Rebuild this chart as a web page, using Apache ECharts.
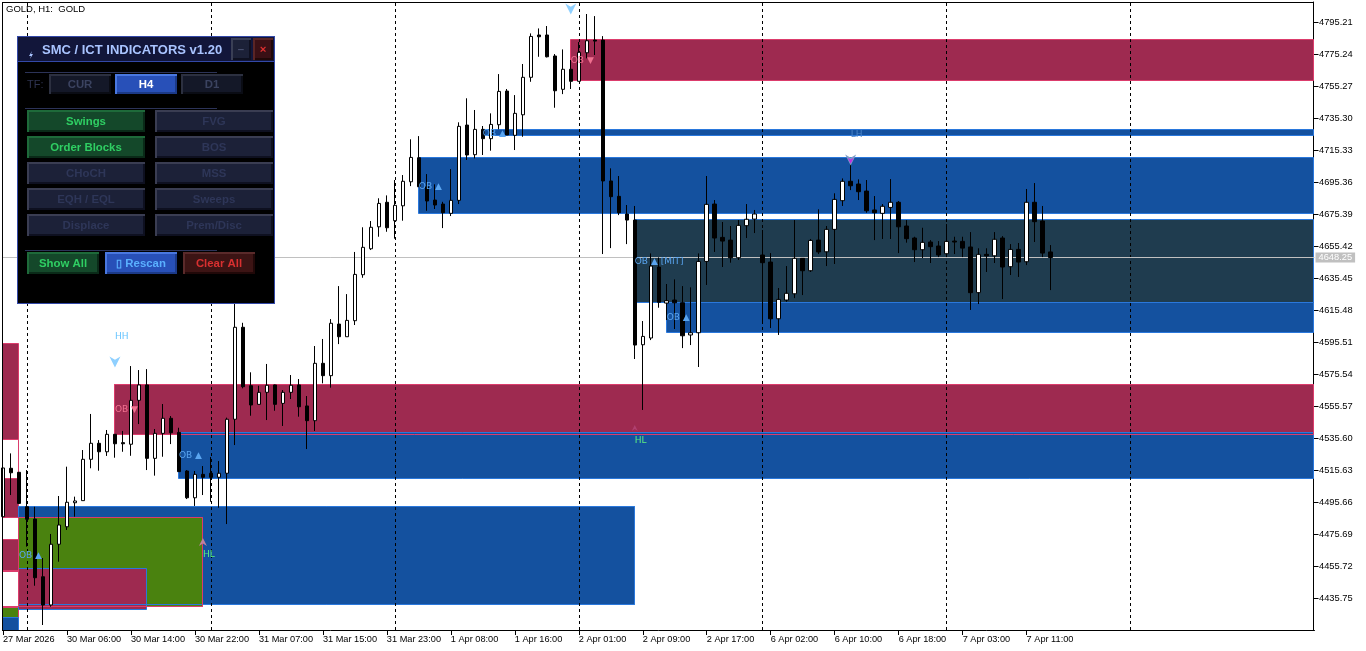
<!DOCTYPE html>
<html>
<head>
<meta charset="utf-8">
<title>GOLD H1</title>
<style>
html, body { margin: 0; padding: 0; background: #fff; }
#main { width: 1366px; height: 651px; }
</style>
<script src="https://cdn.jsdelivr.net/npm/echarts@6/dist/echarts.min.js"></script>
</head>
<body>
<div id="main"></div>
<script>
var opens = [
  4486.5,4516.7,4514.2,4492.7,4485.0,4449.0,4431.4,4469.3,4480.2,4495.2,
  4496.5,4522.3,4532.3,4527.0,4537.9,4532.7,4531.7,4559.1,4568.7,4522.9,
  4538.5,4547.9,4539.1,4515.0,4498.3,4512.9,4513.6,4511.1,4513.6,4547.3,
  4604.7,4568.2,4556.6,4564.1,4568.7,4557.2,4564.1,4568.7,4555.6,4546.4,
  4582.2,4574.5,4606.7,4598.8,4608.8,4637.5,4653.7,4667.4,4682.7,4671.2,
  4680.5,4695.5,4710.5,4692.4,4684.1,4681.6,4675.8,4683.9,4730.9,4712.4,
  4728.2,4722.4,4731.1,4752.1,4724.5,4737.3,4760.7,4787.1,4787.1,4774.0,
  4753.2,4765.7,4758.2,4776.0,4783.9,4783.9,4696.0,4686.4,4675.4,4671.6,
  4593.8,4598.0,4642.3,4619.8,4621.7,4620.0,4599.9,4601.3,4645.8,4681.6,
  4660.8,4659.1,4648.1,4668.1,4672.2,4649.8,4645.4,4610.0,4621.7,4625.6,
  4647.7,4640.0,4659.1,4651.8,4665.8,4683.7,4695.8,4694.1,4689.7,4677.9,
  4675.8,4679.5,4682.7,4667.9,4660.4,4653.1,4657.9,4655.4,4650.6,4658.5,
  4658.3,4654.8,4626.3,4650.2,4649.3,4660.4,4642.5,4653.3,4645.6,4682.7,
  4671.0,4651.7
]
var closes = [
  4516.9,4513.9,4494.8,4484.9,4448.4,4431.4,4469.3,4481.3,4495.5,4496.3,
  4522.3,4532.3,4527.0,4537.9,4532.0,4532.0,4559.1,4568.7,4522.9,4538.5,
  4547.9,4538.9,4514.6,4498.3,4512.9,4511.1,4511.1,4513.6,4547.3,4604.7,
  4567.6,4556.2,4564.1,4568.5,4556.6,4564.1,4568.5,4555.1,4546.4,4582.2,
  4574.5,4607.2,4598.8,4609.0,4637.7,4654.6,4667.1,4682.0,4666.8,4680.8,
  4695.8,4710.7,4692.4,4683.5,4681.0,4676.2,4683.9,4730.1,4712.2,4728.2,
  4722.4,4731.3,4751.9,4724.7,4738.2,4760.7,4786.2,4786.0,4773.5,4752.3,
  4765.7,4758.2,4776.3,4783.5,4783.3,4696.0,4686.2,4676.2,4671.6,4593.6,
  4599.0,4642.9,4620.3,4621.3,4620.0,4599.4,4601.3,4645.8,4681.4,4660.4,
  4658.5,4648.1,4668.3,4672.1,4675.4,4645.0,4610.0,4622.1,4625.9,4647.7,
  4640.0,4658.9,4651.7,4665.8,4684.5,4695.8,4693.0,4689.3,4677.4,4676.2,
  4680.2,4682.7,4667.4,4660.0,4653.1,4657.7,4655.0,4649.8,4658.3,4657.9,
  4654.1,4626.3,4650.2,4649.3,4659.6,4642.3,4653.3,4645.4,4682.7,4670.6,
  4651.0,4648.25
]
var highs = [
  4518.7,4526.0,4514.4,4515.6,4492.7,4460.7,4475.7,4499.4,4517.7,4499.0,
  4528.1,4550.6,4534.3,4540.6,4538.1,4540.0,4580.5,4578.0,4578.6,4541.2,
  4556.8,4549.3,4542.0,4515.6,4515.0,4518.1,4523.7,4521.2,4548.3,4627.9,
  4607.5,4576.6,4568.2,4581.8,4568.9,4565.5,4574.9,4572.4,4561.8,4593.0,
  4597.4,4609.8,4630.4,4625.4,4651.7,4667.1,4671.0,4685.2,4687.0,4696.6,
  4699.7,4722.0,4724.0,4700.3,4693.9,4683.0,4703.4,4732.6,4747.6,4740.3,
  4730.3,4738.2,4762.7,4753.4,4749.6,4769.0,4788.1,4791.2,4792.7,4775.2,
  4778.1,4771.5,4782.7,4800.2,4798.9,4786.4,4703.9,4699.1,4681.0,4680.4,
  4608.6,4650.8,4648.3,4631.7,4634.6,4630.4,4629.6,4650.8,4699.1,4684.1,
  4670.4,4667.9,4671.6,4681.6,4677.9,4665.4,4651.0,4629.2,4642.9,4671.6,
  4647.9,4659.8,4678.3,4667.9,4688.3,4697.6,4709.1,4697.0,4696.6,4686.6,
  4681.6,4697.2,4683.5,4671.6,4661.2,4666.8,4659.1,4658.5,4669.1,4661.2,
  4661.2,4664.1,4654.0,4654.0,4664.1,4661.6,4656.6,4657.3,4691.0,4694.7,
  4680.4,4656.0
]
var lows = [
  4485.7,4500.0,4494.4,4467.8,4443.4,4418.9,4430.3,4458.4,4478.2,4486.5,
  4496.5,4516.7,4515.2,4524.4,4523.3,4527.0,4524.5,4544.3,4515.6,4512.1,
  4523.9,4531.8,4514.6,4497.5,4493.2,4500.0,4495.8,4492.1,4481.9,4531.2,
  4566.6,4549.5,4556.6,4546.8,4552.6,4543.1,4559.9,4548.9,4528.7,4540.0,
  4569.7,4567.0,4594.2,4598.8,4606.1,4635.6,4652.9,4661.2,4664.3,4660.0,
  4671.2,4692.8,4692.4,4677.4,4678.5,4666.6,4674.1,4681.6,4709.1,4710.1,
  4712.2,4714.9,4728.2,4724.7,4715.3,4723.6,4757.9,4773.5,4773.1,4741.7,
  4750.2,4753.4,4758.2,4772.5,4774.6,4650.4,4654.1,4674.7,4656.6,4584.9,
  4553.1,4596.7,4616.9,4609.2,4603.6,4591.7,4593.6,4579.9,4631.1,4651.7,
  4642.3,4645.0,4646.7,4660.4,4663.5,4607.5,4604.2,4599.9,4620.6,4622.9,
  4624.8,4639.2,4650.4,4642.9,4644.2,4680.4,4690.3,4684.1,4676.2,4659.1,
  4659.8,4659.8,4651.0,4657.5,4645.4,4647.9,4644.8,4648.5,4648.5,4650.4,
  4648.5,4615.5,4619.2,4639.2,4644.8,4622.3,4637.3,4636.1,4643.5,4657.9,
  4648.5,4627.9
]

var timeLabels = ['27 Mar 2026','30 Mar 06:00','30 Mar 14:00','30 Mar 22:00','31 Mar 07:00','31 Mar 15:00','31 Mar 23:00',
  '1 Apr 08:00','1 Apr 16:00','2 Apr 01:00','2 Apr 09:00','2 Apr 17:00','6 Apr 02:00','6 Apr 10:00','6 Apr 18:00','7 Apr 03:00','7 Apr 11:00']
var priceTicks = [4795.21,4775.24,4755.27,4735.30,4715.33,4695.36,4675.39,4655.42,4635.45,4615.48,4595.51,4575.54,4555.57,4535.60,4515.63,4495.66,4475.69,4455.72,4435.75]
var daySeparators = [3,26,49,72,95,118,141]
var lastPrice = 4648.25

// order blocks, drawn in this order
var zoneStart  = [-1,-1,-1,-1,-1,-1,-1,-1, 2, 2, 2, 2, 2, 14, 22, 14, 52, 60, 71, 83, 79]
var zoneEnd    = [2,2,2,2,2,2,2,2, 79, 25, 18, 79, 25, 164, 164, 164, 164, 164, 164, 164, 164]
var zoneTop    = [4594.7,4534.8,4510.6,4486.0,4472.0,4452.5,4429.9,4423.3, 4492.8,4486.0,4454.3,4492.8,4486.0, 4569.1,4538.9,4569.1, 4710.9,4728.4,4784.3,4620.3,4672.2]
var zoneBottom = [4534.8,4510.6,4486.0,4472.0,4452.9,4430.4,4423.3,4410.0, 4431.8,4430.6,4428.5,4431.8,4430.6, 4537.9,4510.4,4537.9, 4675.7,4724.3,4758.4,4601.3,4620.3]
var zoneKind   = ['bear','void','bear','void','bear','void','green','bull', 'bull','green','bearBlue','bullLine','bearLine', 'bear','bull','bearLine', 'bull','bull','bear','bull','mit']

var labelBar   = [2,14,22,52,60,71,79,83,14,25,79,106]
var labelPrice = [4462.6,4553.7,4525.0,4693.0,4726.2,4771.5,4646.2,4611.1,4599.2,4463.4,4534.3,4725.3]
var labelText  = ['OB ▲','OB ▼','OB ▲','OB ▲','OB ▲','OB ▼','OB ▲ [MIT]','OB ▲','HH','HL','HL','LH']
var labelKind  = ['ob','obDown','ob','ob','ob','obDown','ob','ob','hh','hl','hl','lh']

var arrowBar   = [14,71,106,106,79,25]
var arrowPrice = [4583.0,4803.3,4709.1,4708.6,4541.9,4470.7]
var arrowKind  = ['down','down','lh','lhCore','hl','hl2']

var zoneStyles = {
  bear:     { fill: '#9e2a50', line: '#dc3c6c' },
  void:     { fill: '#ffffff', line: '#dc3c6c' },
  green:    { fill: '#4a820f', line: '#dc3c6c' },
  bull:     { fill: '#14519f', line: '#2a78dc' },
  bearBlue: { fill: '#9e2a50', line: '#2a78dc' },
  mit:      { fill: '#1f3c4f', line: '#2a78dc' },
  bullLine: { fill: 'none',    line: '#2a78dc' },
  bearLine: { fill: 'none',    line: '#dc3c6c' }
}
var labelColors = { ob: '#5aa5f0', obDown: '#f0708f', hh: '#66c4ff', hl: '#5cf080', lh: '#4a85c8' }
var arrowStyles = {
  down:   { color: '#8fd0ff', size: 11, rotate: 0 },
  lh:     { color: '#7f9cc8', size: 11, rotate: 0 },
  lhCore: { color: '#c030e0', size: 6, rotate: 0 },
  hl:     { color: '#b04070', size: 6, rotate: 180 },
  hl2:    { color: '#c080a0', size: 8, rotate: 180 }
}

var uiFont = '"Liberation Sans", Arial, sans-serif'
var plotRight = 1313.5
var categories = []
for (var i = 0; i < 165; i++) {
  categories.push(i % 8 == 0 && timeLabels[i / 8] ? timeLabels[i / 8] : '')
}

var candleData = []
for (var i = 0; i < opens.length; i++) {
  candleData.push([opens[i], closes[i], lows[i], highs[i]])
}
var zoneData = []
for (var i = 0; i < zoneStart.length; i++) {
  zoneData.push([zoneStart[i], zoneEnd[i], zoneTop[i], zoneBottom[i], i])
}
var labelData = []
for (var i = 0; i < labelBar.length; i++) {
  labelData.push({
    value: [labelBar[i], labelPrice[i]],
    label: { formatter: labelText[i], color: labelColors[labelKind[i]] }
  })
}
var arrowData = []
for (var i = 0; i < arrowBar.length; i++) {
  var st = arrowStyles[arrowKind[i]]
  arrowData.push({
    value: [arrowBar[i], arrowPrice[i]],
    symbolSize: st.size,
    symbolRotate: st.rotate,
    itemStyle: { color: st.color, opacity: 1 }
  })
}

// the SMC panel
var panel = []
function box(x0, y0, x1, y1, color) {
  panel.push({ type: 'rect', z: 100, silent: true, shape: { x: x0, y: y0, width: x1 - x0, height: y1 - y0 }, style: { fill: color } })
}
function txt(x, y, s, color, size, bold, align) {
  panel.push({ type: 'text', z: 101, silent: true, x: x, y: y, style: {
    text: s, fill: color, font: (bold ? 'bold ' : '') + size + 'px ' + uiFont,
    align: align || 'center', verticalAlign: 'middle'
  } })
}
function button(x0, y0, x1, y1, bg, light, dark, s, color) {
  box(x0, y0, x1, y1, dark)
  box(x0, y0, x1, y0 + 2, light)
  box(x0, y0, x0 + 2, y1, light)
  box(x0 + 2, y0 + 2, x1 - 2, y1 - 2, bg)
  txt((x0 + x1) / 2, (y0 + y1) / 2 + 0.5, s, color, 11.4, true)
}
function onBtn(x0, y0, x1, y1, s) { button(x0, y0, x1, y1, '#14482a', '#1e6a3a', '#0a2a18', s, '#2fce63') }
function offBtn(x0, y0, x1, y1, s) { button(x0, y0, x1, y1, '#1c2138', '#3a3d52', '#0e1020', s, '#2e3658') }

box(17, 36, 275, 304, '#3348a8')
box(18, 37, 274, 303, '#000000')
box(18, 37, 274, 61, '#12163a')
box(18, 61, 274, 62, '#3348a8')
txt(42, 50.5, 'SMC / ICT INDICATORS v1.20', '#a9c4ff', 13, true, 'left')
panel.push({ type: 'polygon', z: 101, silent: true, shape: { points: [[32, 51], [29, 56], [31, 56], [30, 59], [33, 54], [31, 54]] }, style: { fill: '#a9c4ff' } })
button(231, 38, 251, 60, '#1c2138', '#3a3f55', '#0e1020', '–', '#4a5070')
button(253, 38, 273, 60, '#3a1015', '#5a2525', '#200808', '×', '#e03030')
box(25, 72, 217, 73, '#2c3358')
box(25, 108, 217, 109, '#2c3358')
box(25, 250, 217, 251, '#2c3358')
txt(27, 85, 'TF:', '#2e3350', 11, false, 'left')
button(49, 74, 111, 94, '#141828', '#2c3040', '#0a0c14', 'CUR', '#3b4360')
button(115, 74, 177, 94, '#2850b8', '#4a78e0', '#1c3a88', 'H4', '#ffffff')
button(181, 74, 243, 94, '#141828', '#2c3040', '#0a0c14', 'D1', '#3b4360')
onBtn(27, 110, 145, 132, 'Swings')
offBtn(155, 110, 273, 132, 'FVG')
onBtn(27, 136, 145, 158, 'Order Blocks')
offBtn(155, 136, 273, 158, 'BOS')
offBtn(27, 162, 145, 184, 'CHoCH')
offBtn(155, 162, 273, 184, 'MSS')
offBtn(27, 188, 145, 210, 'EQH / EQL')
offBtn(155, 188, 273, 210, 'Sweeps')
offBtn(27, 214, 145, 236, 'Displace')
offBtn(155, 214, 273, 236, 'Prem/Disc')
button(27, 252, 99, 274, '#14482a', '#1e6a3a', '#0a2a18', 'Show All', '#2fce63')
button(105, 252, 177, 274, '#2850b8', '#4a78e0', '#1c3a88', '▯ Rescan', '#5ab0ff')
button(183, 252, 255, 274, '#3c1414', '#5a2a2a', '#200808', 'Clear All', '#d83030')

// frame sides the axes do not draw
panel.push({ type: 'rect', z: 50, silent: true, shape: { x: 2, y: 2, width: 1312, height: 1 }, style: { fill: '#000' } })
panel.push({ type: 'rect', z: 50, silent: true, shape: { x: 2, y: 2, width: 1, height: 629 }, style: { fill: '#000' } })

var myChart = echarts.init(document.getElementById('main'))

var option = {
  animation: false,
  backgroundColor: '#ffffff',
  title: {
    text: 'GOLD, H1:  GOLD', left: 6, top: 4, padding: 0,
    textStyle: { fontFamily: uiFont, fontSize: 9.5, fontWeight: 'normal', color: '#000000' }
  },
  grid: { left: 2.5, top: 2, width: 1312, height: 628 },
  xAxis: {
    type: 'category',
    data: categories,
    boundaryGap: false,
    axisLine: { lineStyle: { color: '#000', width: 1 } },
    axisTick: {
      length: 5,
      lineStyle: { color: '#000' },
      interval: function(idx) { return idx % 8 == 0 && idx <= 128 }
    },
    axisLabel: {
      interval: function(idx) { return idx % 8 == 0 && idx <= 128 },
      align: 'left',
      margin: 5,
      color: '#000',
      fontFamily: uiFont,
      fontSize: 9.2,
      hideOverlap: false
    },
    splitLine: { show: false }
  },
  yAxis: {
    type: 'value',
    position: 'right',
    offset: -1,
    min: 4415.78,
    max: 4807.69,
    axisLine: { show: true, lineStyle: { color: '#000', width: 1 } },
    axisTick: { show: true, length: 5, lineStyle: { color: '#000' }, customValues: priceTicks },
    axisLabel: {
      customValues: priceTicks,
      margin: 5.5,
      padding: [2, 0, 0, 0],
      color: '#000',
      fontFamily: uiFont,
      fontSize: 9.3,
      formatter: function(v) { return v.toFixed(2) }
    },
    splitLine: { show: false }
  },
  series: [
    {
      type: 'custom',
      z: 1,
      silent: true,
      clip: true,
      encode: { x: [0, 1], y: [2, 3] },
      data: zoneData,
      renderItem: function(params, api) {
        var p0 = api.coord([api.value(0), api.value(2)])
        var p1 = api.coord([api.value(1), api.value(3)])
        var st = zoneStyles[zoneKind[api.value(4)]]
        var x0 = Math.round(p0[0] - 0.5) + 0.5, y0 = Math.round(p0[1] - 0.5) + 0.5
        var x1 = Math.min(Math.round(p1[0] - 0.5) + 0.5, plotRight), y1 = Math.round(p1[1] - 0.5) + 0.5
        return {
          type: 'rect',
          shape: { x: x0, y: y0, width: x1 - x0, height: y1 - y0 },
          style: { fill: st.fill, stroke: st.line, lineWidth: 1 }
        }
      }
    },
    {
      // day separators and the bid line, under the candles
      type: 'line',
      z: 2,
      silent: true,
      data: [],
      markLine: {
        silent: true,
        symbol: 'none',
        animation: false,
        label: { show: false },
        lineStyle: { color: '#000', type: [3, 3], width: 1 },
        data: daySeparators.map(function(d) { return { xAxis: d } })
      }
    },
    {
      type: 'line',
      z: 2,
      silent: true,
      data: [],
      markLine: {
        silent: true,
        symbol: 'none',
        animation: false,
        lineStyle: { color: '#c0c0c0', type: 'solid', width: 1 },
        label: {
          show: true,
          position: 'end',
          distance: 1,
          formatter: lastPrice.toFixed(2),
          color: '#ffffff',
          backgroundColor: '#c0c0c0',
          fontFamily: uiFont,
          fontSize: 9.3,
          padding: [1, 3, 0, 3]
        },
        data: [{ yAxis: lastPrice }]
      }
    },
    {
      type: 'candlestick',
      z: 10,
      silent: true,
      barWidth: 4,
      data: candleData,
      itemStyle: {
        color: '#ffffff',
        color0: '#000000',
        borderColor: '#000000',
        borderColor0: '#000000',
        borderWidth: 1
      }
    },
    {
      type: 'scatter',
      z: 20,
      silent: true,
      symbol: 'path://M0,0 L5,3 L10,0 L5,10 Z',
      data: arrowData
    },
    {
      type: 'scatter',
      z: 21,
      silent: true,
      symbolSize: 0,
      itemStyle: { opacity: 1 },
      data: labelData,
      label: {
        show: true,
        position: 'right',
        distance: 0,
        offset: [0, 1],
        opacity: 1,
        fontFamily: '"DejaVu Sans", sans-serif',
        fontSize: 9
      }
    }
  ],
  graphic: { elements: panel }
}

myChart.setOption(option)
</script>
</body>
</html>
